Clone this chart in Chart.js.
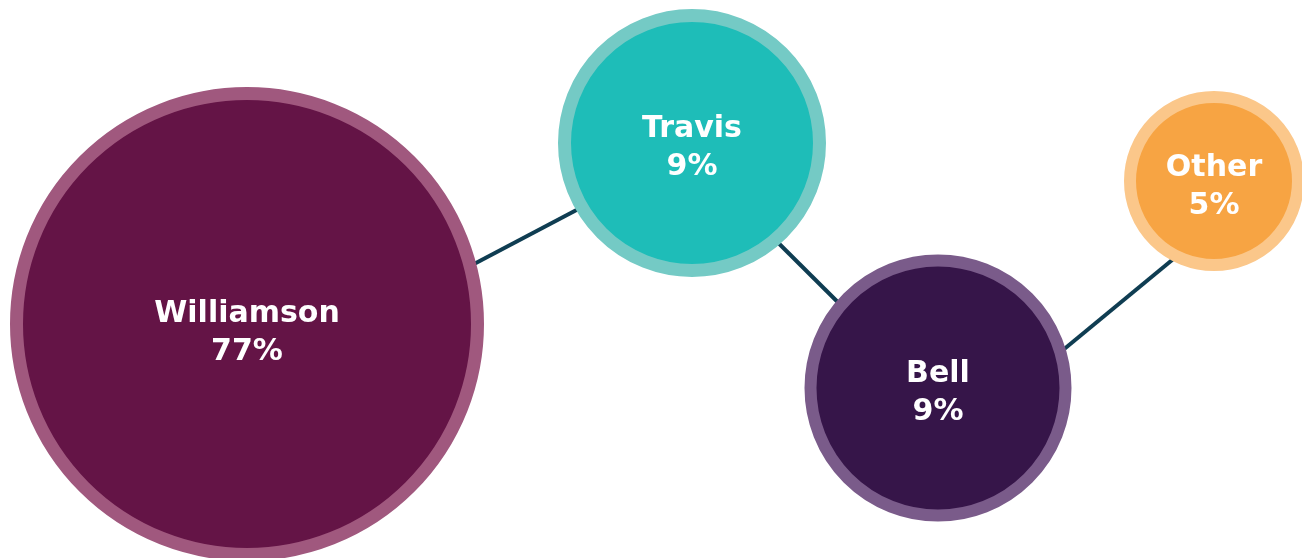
<!DOCTYPE html>
<html>
<head>
<meta charset="utf-8">
<title>Share by county</title>
<script src="https://cdn.jsdelivr.net/npm/chart.js@4.4.1/dist/chart.umd.min.js"></script>
<style>
  html, body { margin: 0; padding: 0; background: #fff; }
  #wrap { width: 1302px; height: 558px; position: relative; }
</style>
</head>
<body>
<div id="wrap"><canvas id="bubbles"></canvas></div>
<script>
// data
const counties = ['Williamson', 'Travis', 'Bell', 'Other'];
const shares = [77, 9, 9, 5];

// layout (x/y in plot units, radius in px)
const bubbleX = [247, 692, 938, 1214];
const bubbleY = [324, 143, 388, 181];
const bubbleR = [230.5, 127.5, 127.5, 84];
const ringWidth = [13, 13, 12, 12];
const labelShift = [4, 0, 0, 1];
const fills = ['#641446', '#1ebdb8', '#361549', '#f7a443'];
const rings = ['#a0587e', '#74cac5', '#7a5b8a', '#fbc78a'];

// connector segments between the bubbles
const links = [
  [{ x: 400, y: 303 }, { x: 660, y: 166 }],
  [{ x: 700, y: 165 }, { x: 900, y: 364 }],
  [{ x: 1000, y: 402 }, { x: 1200, y: 237 }]
];

const labelPlugin = {
  id: 'bubbleLabels',
  afterDatasetsDraw(chart) {
    const meta = chart.getDatasetMeta(0);
    const ctx = chart.ctx;
    ctx.save();
    ctx.fillStyle = '#ffffff';
    ctx.font = 'bold 30px "DejaVu Sans", sans-serif';
    ctx.textAlign = 'center';
    ctx.textBaseline = 'middle';
    meta.data.forEach((pt, i) => {
      const y = pt.y + labelShift[i];
      ctx.fillText(counties[i], pt.x, y - 14);
      ctx.fillText(shares[i] + '%', pt.x, y + 24);
    });
    ctx.restore();
  }
};

const linkSets = links.map(seg => ({
  type: 'line',
  data: seg,
  borderColor: '#0f3d52',
  borderWidth: 4,
  pointRadius: 0,
  fill: false,
  order: 2
}));

new Chart(document.getElementById('bubbles'), {
  type: 'bubble',
  data: {
    datasets: [{
      data: counties.map((c, i) => ({ x: bubbleX[i], y: bubbleY[i], r: bubbleR[i], v: shares[i] })),
      backgroundColor: fills,
      borderColor: rings,
      borderWidth: ringWidth,
      clip: false,
      order: 1
    }, ...linkSets]
  },
  options: {
    responsive: true,
    maintainAspectRatio: false,
    animation: false,
    events: [],
    layout: { padding: 0, autoPadding: false },
    plugins: { legend: { display: false }, tooltip: { enabled: false } },
    scales: {
      x: { type: 'linear', min: 0, max: 1302, display: false },
      y: { type: 'linear', min: 0, max: 558, reverse: true, display: false }
    }
  },
  plugins: [labelPlugin]
});
</script>
</body>
</html>
